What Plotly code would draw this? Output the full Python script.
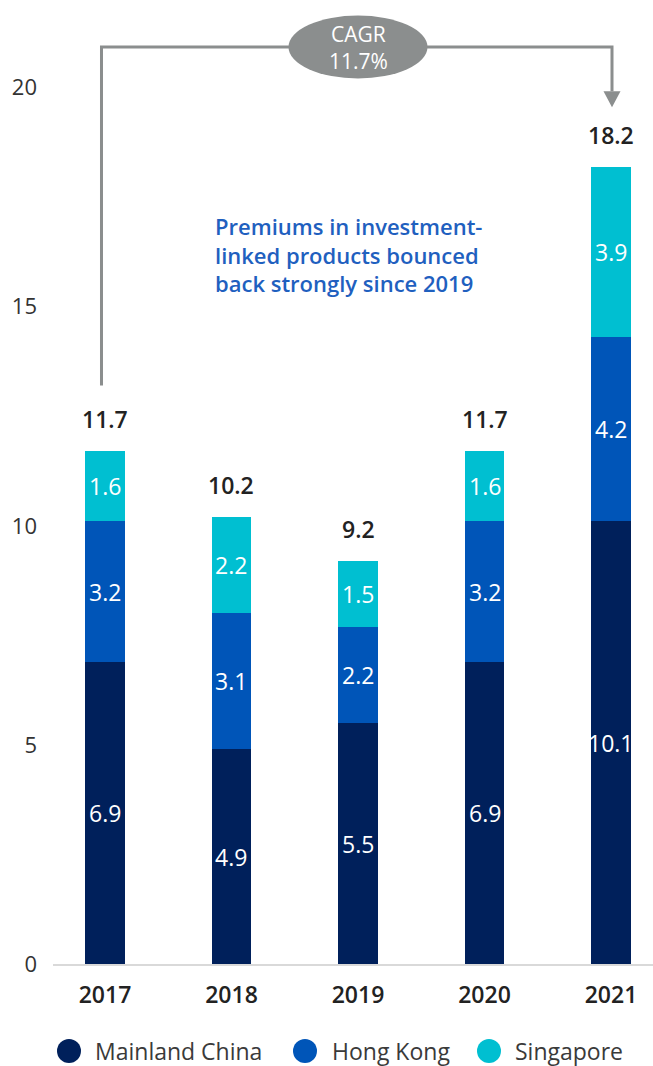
import plotly.graph_objects as go

# ---- data -------------------------------------------------------------
years = [2017, 2018, 2019, 2020, 2021]
mainland_china = [6.9, 4.9, 5.5, 6.9, 10.1]
hong_kong = [3.2, 3.1, 2.2, 3.2, 4.2]
singapore = [1.6, 2.2, 1.5, 1.6, 3.9]
totals = [11.7, 10.2, 9.2, 11.7, 18.2]
series_names = ["Mainland China", "Hong Kong", "Singapore"]
y_ticks = [0, 5, 10, 15, 20]
cagr_text = "CAGR<br>11.7%"
note_text = "Premiums in investment-<br>linked products bounced<br>back strongly since 2019"

# ---- style ------------------------------------------------------------
FONT = "Open Sans"
series_colors = ["#00205B", "#0055B8", "#00BFD1"]
GREY = "#8B8E8E"
NOTE_BLUE = "#1F60BF"

W, H = 653, 1066
M_L, M_B = 53, 102
plot_w, plot_h = W - M_L, H - M_B
x_range = [2016.589, 2021.332]
y_range = [0, 22]
px_x = plot_w / (x_range[1] - x_range[0])      # pixels per x unit
px_y = plot_h / (y_range[1] - y_range[0])      # pixels per y unit


def y_from_px(p):
    return (plot_h - p) / px_y


fig = go.Figure()

series_values = [mainland_china, hong_kong, singapore]
for name, vals, col in zip(series_names, series_values, series_colors):
    fig.add_trace(go.Bar(
        x=years, y=vals, name=name, width=0.316,
        marker=dict(color=col, line=dict(width=0)),
        showlegend=False, hoverinfo="skip",
    ))

annotations = []
shapes = []

# value labels inside each segment
base = [0.0] * len(years)
for vals in series_values:
    for i, (yr, v) in enumerate(zip(years, vals)):
        annotations.append(dict(
            x=yr, y=base[i] + v / 2, xref="x", yref="y", text=f"{v:.1f}",
            showarrow=False,
            font=dict(family=FONT, size=23, color="white", weight=500),
        ))
        base[i] += v

# totals above the stacks
for yr, t in zip(years, totals):
    annotations.append(dict(
        x=yr, y=t, xref="x", yref="y", text=f"{t:.1f}", showarrow=False,
        yanchor="bottom", yshift=14,
        font=dict(family=FONT, size=23, color="#222222", weight=600),
    ))

# CAGR connector from first to last year
x_left = years[0] - 3.5 / px_x
x_right = years[-1] + 1 / px_x
y_start = totals[0] + 1.5
y_top = y_from_px(47)
y_tip = totals[-1] + 1.35
head_len = 16 / px_y
head_half = 8.5 / px_x
shapes.append(dict(
    type="path", xref="x", yref="y",
    path=(f"M {x_left},{y_start} L {x_left},{y_top} "
          f"L {x_right},{y_top} L {x_right},{y_tip + head_len}"),
    line=dict(color=GREY, width=3),
))
shapes.append(dict(
    type="path", xref="x", yref="y",
    path=(f"M {x_right - head_half},{y_tip + head_len} "
          f"L {x_right + head_half},{y_tip + head_len} L {x_right},{y_tip} Z"),
    fillcolor=GREY, line=dict(width=0),
))
ell_half_w = 69.5 / px_x
ell_half_h = 31.5 / px_y
shapes.append(dict(
    type="circle", xref="x", yref="y",
    x0=years[2] - ell_half_w, x1=years[2] + ell_half_w,
    y0=y_top - ell_half_h, y1=y_top + ell_half_h,
    fillcolor=GREY, line=dict(width=0),
))
annotations.append(dict(
    x=years[2], y=y_top, xref="x", yref="y", text=cagr_text, showarrow=False,
    font=dict(family=FONT, size=21, color="white", weight=500),
))

# commentary
annotations.append(dict(
    x=years[0] + (213 - 105) / px_x, y=y_from_px(254), xref="x", yref="y",
    text=note_text, showarrow=False, xanchor="left", yanchor="middle",
    align="left", font=dict(family=FONT, size=22, color=NOTE_BLUE, weight=600),
))

# legend row
legend_dot_px = [69, 305, 489]
legend_text_px = [93, 330, 513]
legend_y = -(1051 - plot_h) / plot_h
for name, col, dx, tx in zip(series_names, series_colors, legend_dot_px, legend_text_px):
    shapes.append(dict(
        type="circle", xref="paper", yref="paper",
        xsizemode="pixel", ysizemode="pixel",
        xanchor=(dx - M_L) / plot_w, yanchor=legend_y,
        x0=-12, x1=12, y0=-12, y1=12,
        fillcolor=col, line=dict(width=0),
    ))
    annotations.append(dict(
        x=(tx - M_L) / plot_w, y=legend_y, xref="paper", yref="paper",
        text=name, showarrow=False, xanchor="left", yanchor="middle",
        font=dict(family=FONT, size=23, color="#3A3A3A"),
    ))

fig.update_layout(
    width=W, height=H,
    margin=dict(l=M_L, r=0, t=0, b=M_B, pad=0),
    barmode="stack",
    plot_bgcolor="white", paper_bgcolor="white",
    font=dict(family=FONT),
    shapes=shapes, annotations=annotations,
    showlegend=False,
    xaxis=dict(
        range=x_range, tickmode="array", tickvals=years,
        ticktext=[str(y) for y in years],
        tickfont=dict(family=FONT, size=23, color="#222222", weight=600),
        showgrid=False, zeroline=False,
        showline=True, linecolor="#D9D9D9", linewidth=2,
        ticks="", ticklabelstandoff=9,
    ),
    yaxis=dict(
        range=y_range, tickmode="array", tickvals=y_ticks,
        tickfont=dict(family=FONT, size=22, color="#333333"),
        showgrid=False, zeroline=False, showline=False,
        ticks="", ticklabelstandoff=15,
    ),
)

fig.write_html("out.html")
